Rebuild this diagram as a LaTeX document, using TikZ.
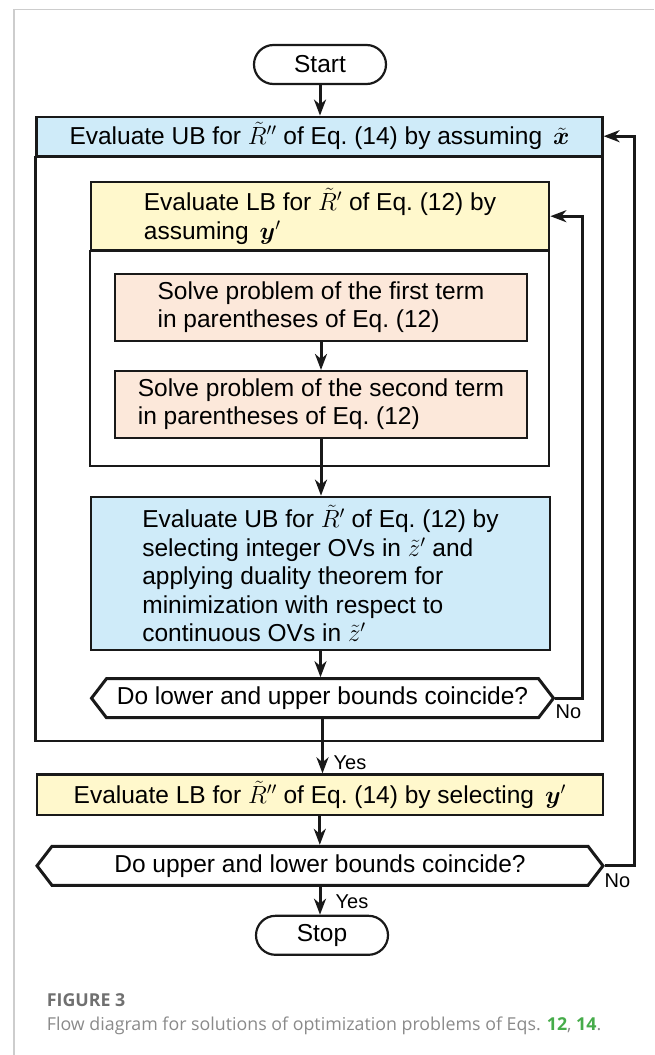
\documentclass[tikz,border=0pt]{standalone}
\usepackage{amsmath}
\usepackage{bm}
\usepackage{fontspec}
\setmainfont{Liberation Sans}
\newfontfamily\captionfont{Open Sans}
\usetikzlibrary{arrows.meta,shapes.misc,shapes.symbols}

\definecolor{boxblue}{RGB}{207,235,249}
\definecolor{boxyellow}{RGB}{255,248,204}
\definecolor{boxpeach}{RGB}{252,232,218}
\definecolor{linedark}{RGB}{25,25,25}
\definecolor{framegray}{RGB}{205,205,205}
\definecolor{capgray}{RGB}{112,112,112}
\definecolor{captext}{RGB}{138,138,138}
\definecolor{capgreen}{RGB}{70,172,74}

\begin{document}
\begin{tikzpicture}[x=1pt,y=-1pt,
   every node/.style={font=\fontsize{24.5}{28.5}\selectfont},
   box/.style={draw=linedark, line width=2.2pt, inner sep=0pt, align=left},
   terminal/.style={rounded rectangle, draw=linedark, line width=2.2pt,
      minimum width=132pt, minimum height=39pt, inner sep=0pt},
   decision/.style={signal, signal to=east and west, signal pointer angle=105,
      draw=linedark, line width=3pt, minimum height=39pt, inner sep=0pt},
   flow/.style={line width=3pt, draw=linedark,
      -{Stealth[length=16pt,width=12pt,inset=5pt]}},
   answer/.style={font=\fontsize{20}{22}\selectfont, inner sep=0pt}]
   
   \useasboundingbox (0,0) rectangle (654,1055);
   \draw[framegray, line width=1.5pt] (14,1055) -- (14,9.5) -- (654,9.5);
   
   \node[terminal] (start) at (320,64.5) {Start};
   
   % outer block
   \node[box, fill=boxblue, minimum width=566pt, minimum height=39pt] (ubhead) at (319.5,136.2)
      {Evaluate UB for $\tilde{R}''$ of Eq.~(14) by assuming\, $\bm{\tilde{x}}$};
   \coordinate (outercorner) at (602.5,740.7);
   \draw[linedark, line width=2.2pt] (ubhead.south west) rectangle (outercorner);
   
   % inner block
   \node[box, fill=boxyellow, minimum width=458.5pt, minimum height=67.7pt] (lbhead) at (320,216.2)
      {Evaluate LB for $\tilde{R}'$ of Eq.~(12) by\\assuming\, $\bm{y}'$};
   \coordinate (innercorner) at (549.3,466);
   \draw[linedark, line width=2.2pt] (lbhead.south west) rectangle (innercorner);
   
   \node[box, fill=boxpeach, minimum width=412pt, minimum height=66.7pt] (first) at (321,307.4)
      {Solve problem of the first term\\in parentheses of Eq.~(12)};
   \node[box, fill=boxpeach, minimum width=412pt, minimum height=66.7pt] (second) at (321,404.4)
      {Solve problem of the second term\\in parentheses of Eq.~(12)};
   
   \node[box, fill=boxblue, minimum width=459pt, minimum height=153.3pt] (ubinner) at (320.5,573.4)
      {Evaluate UB for $\tilde{R}'$ of Eq.~(12) by\\selecting integer OVs in $\tilde{z}'$ and\\applying duality theorem for\\minimization with respect to\\continuous OVs in $\tilde{z}'$};
   \node[decision, minimum width=462pt] (checkinner) at (322.5,698.2)
      {Do lower and upper bounds coincide?};
   
   \node[box, fill=boxyellow, minimum width=566pt, minimum height=40.5pt] (lbouter) at (319.8,794.7)
      {Evaluate LB for $\tilde{R}''$ of Eq.~(14) by selecting\, $\bm{y}'$};
   \node[decision, minimum width=566pt] (checkouter) at (320,865.8)
      {Do upper and lower bounds coincide?};
   \node[terminal] (stop) at (322,935.3) {Stop};
   
   % connectors
   \draw[flow] (start.south) -- (start.south |- ubhead.north);
   \draw[flow] (first.south) -- (first.south |- second.north);
   \draw[flow] (second.south) -- (second.south |- ubinner.north);
   \draw[flow] (ubinner.south) -- (ubinner.south |- checkinner.north);
   \draw[flow] (checkinner.south) -- (checkinner.south |- lbouter.north);
   \draw[flow] (lbouter.south) -- (lbouter.south |- checkouter.north);
   \draw[flow] (checkouter.south) -- (checkouter.south |- stop.north);
   
   \draw[flow] (checkinner.east) -- ++(27.4,0) |- (lbhead.east);
   \draw[flow] (checkouter.east) -- ++(29.5,0) |- (ubhead.east);
   
   \node[answer] (yesinner) at (350,762.7) {Yes};
   \node[answer] (yesouter) at (352,901.5) {Yes};
   \node[answer] (noinner) at (568.5,711.5) {No};
   \node[answer] (noouter) at (617.5,880.5) {No};
   
   % caption
   \node[anchor=base west, inner sep=0pt, text=capgray,
      font={\captionfont\fontsize{17.8}{20}\selectfont\bfseries}] (figlabel) at (46.7,1006) {FIGURE 3};
   \node[anchor=base west, inner sep=0pt, text=captext,
      font={\captionfont\fontsize{17.8}{20}\selectfont}] (figtext) at (46.7,1030)
      {Flow diagram for solutions of optimization problems of Eqs. \textcolor{capgreen}{\textbf{12}}, \textcolor{capgreen}{\textbf{14}}.};
   
\end{tikzpicture}
\end{document}
